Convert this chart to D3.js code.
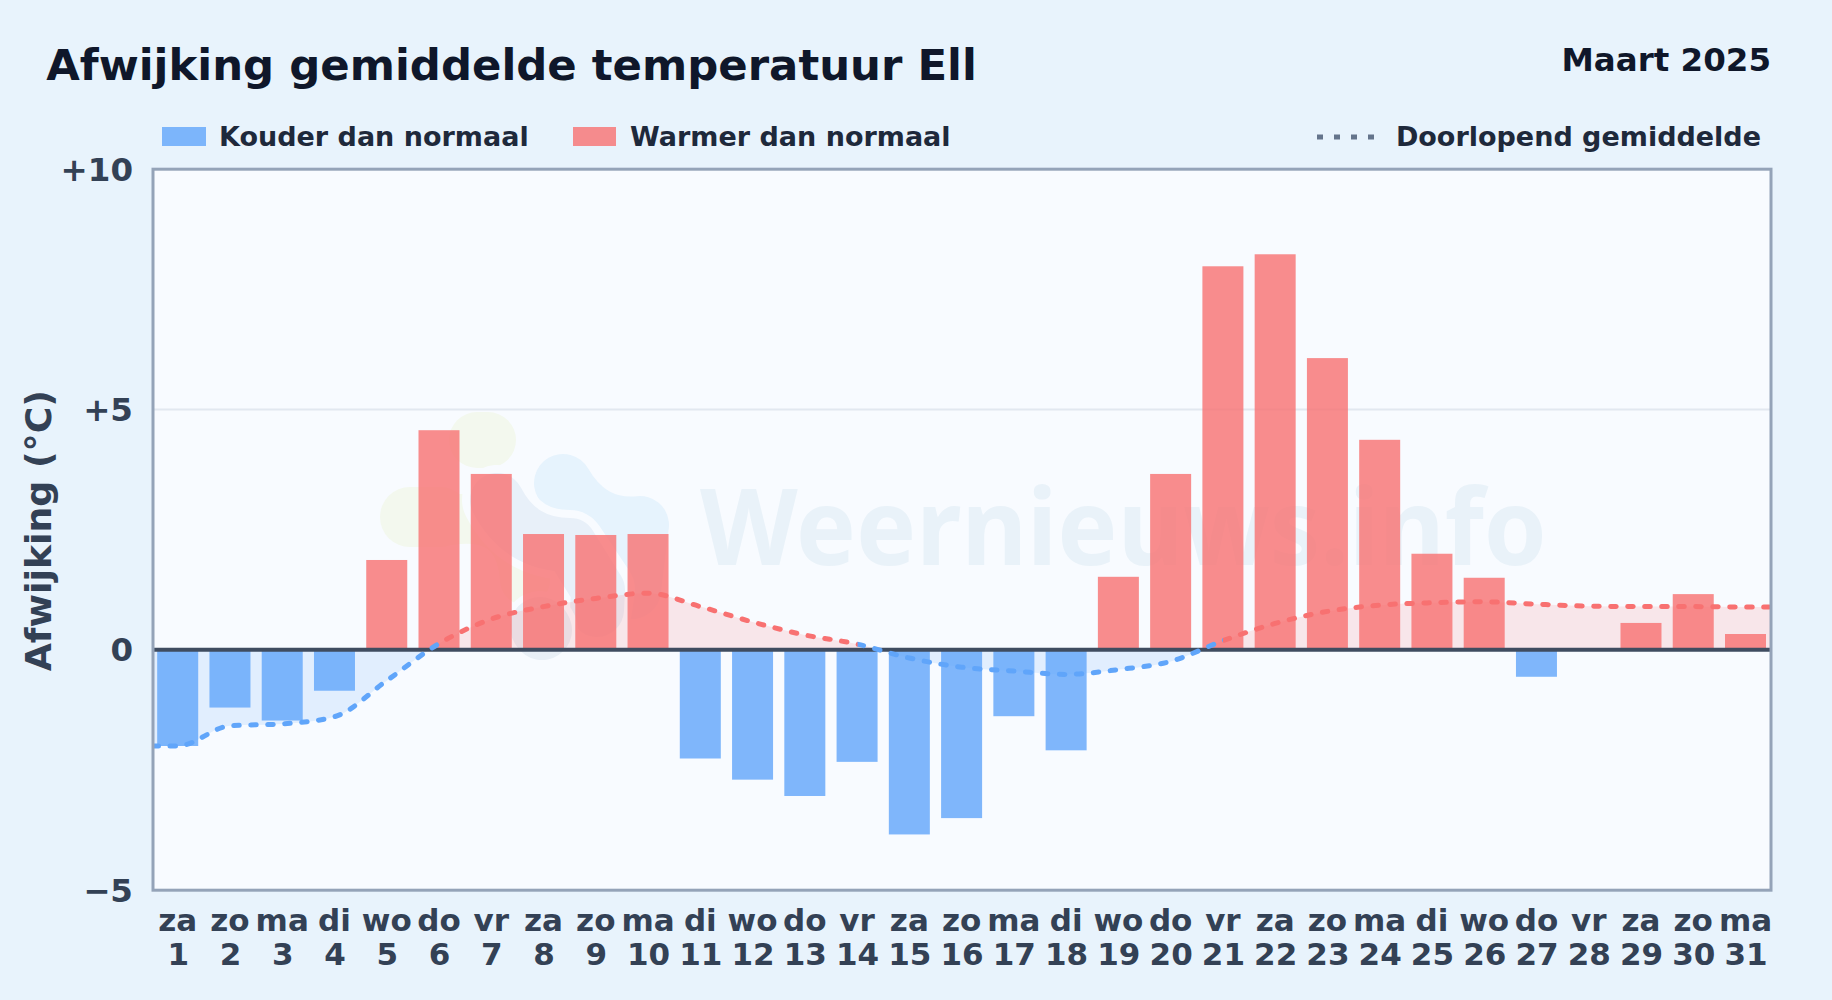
<!DOCTYPE html>
<html><head><meta charset="utf-8">
<script src="https://cdn.jsdelivr.net/npm/d3@7"></script>
<style>html,body{margin:0;padding:0;background:#e8f3fc}svg{display:block}
text{font-family:"DejaVu Sans",sans-serif;font-weight:700}</style></head>
<body><svg id="c" width="1832" height="1000"></svg>
<script>
const titleText="Afwijking gemiddelde temperatuur Ell";
const subtitleText="Maart 2025";
const yAxisTitle="Afwijking (°C)";
const legendCold="Kouder dan normaal", legendWarm="Warmer dan normaal", legendLine="Doorlopend gemiddelde";
const watermarkText="Weernieuws.info";
const days=d3.range(1,32);
const weekdays=["za","zo","ma","di","wo","do","vr","za","zo","ma","di","wo","do","vr","za","zo","ma","di","wo","do","vr","za","zo","ma","di","wo","do","vr","za","zo","ma"];
const deviations=[-2.0,-1.2,-1.47,-0.85,1.87,4.57,3.66,2.41,2.39,2.41,-2.26,-2.7,-3.04,-2.33,-3.84,-3.5,-1.38,-2.09,1.52,3.66,7.98,8.23,6.07,4.37,2.0,1.5,-0.56,0,0.56,1.16,0.33];
const running=[-2.0,-1.58,-1.54,-1.39,-0.64,0.13,0.64,0.9,1.07,1.18,0.9,0.58,0.31,0.12,-0.17,-0.36,-0.44,-0.51,-0.41,-0.24,0.19,0.55,0.8,0.93,0.98,1.0,0.95,0.91,0.9,0.9,0.89];
const yTicks=[10,5,0,-5];
const yTickLabels=["+10","+5","0","−5"];

const svg=d3.select("#c");
const L=153,R=1771,T=169.2,B=890.2;
const x=d3.scaleLinear().domain([1,31]).range([177.7,1745.5]);
const y=d3.scaleLinear().domain([-5,10]).range([B,T]);
const barW=41;

const defs=svg.append("defs");
svg.append("rect").attr("width",1832).attr("height",1000).attr("fill","#e8f3fc");
svg.append("rect").attr("x",L).attr("y",T).attr("width",R-L).attr("height",B-T).attr("fill","#f8fbff");

defs.append("clipPath").attr("id","plot").append("rect").attr("x",L).attr("y",T).attr("width",R-L).attr("height",B-T);
defs.append("clipPath").attr("id","above").append("rect").attr("x",L).attr("y",T).attr("width",R-L).attr("height",y(0)-T);
defs.append("clipPath").attr("id","below").append("rect").attr("x",L).attr("y",y(0)).attr("width",R-L).attr("height",B-y(0));

// watermark
const wm=svg.append("g").attr("clip-path","url(#plot)");
const blob=(d,w,c)=>wm.append("path").attr("d",d).attr("fill","none").attr("stroke",c).attr("stroke-width",w).attr("stroke-linecap","round").attr("stroke-linejoin","round");
blob("M477 440 L488 440",56,"#f3f8ee");
blob("M410 517 L440 517",60,"#f3f8ee");
blob("M450 520 Q520 510 525 580",50,"#f3f8ee");
blob("M563 483 Q590 530 640 525 L632 590",58,"#e6f3fd");
blob("M497 500 Q520 545 570 545 L600 590 L597 610",70,"#f8fbff");
blob("M497 500 Q520 545 570 545 L598 590 L597 610",54,"#e8f0f9");
blob("M540 627 L542 630",72,"#f8fbff");
blob("M540 627 L542 630",60,"#e8eff6");
wm.append("text").attr("x",700).attr("y",565).attr("font-size",106)
  .attr("textLength",847).attr("lengthAdjust","spacingAndGlyphs")
  .style("font-family","'Noto Sans'").style("font-weight",700).attr("fill","#e9f2f9").text(watermarkText);

// gridline
svg.append("line").attr("x1",L).attr("x2",R).attr("y1",y(5)).attr("y2",y(5)).attr("stroke","#e2e8f0").attr("stroke-width",2);

// area + line
const pts=[[x.invert(L),running[0]],...running.map((v,i)=>[days[i],v]),[x.invert(R),running[30]]];
const area=d3.area().x(d=>x(d[0])).y0(y(0)).y1(d=>y(d[1])).curve(d3.curveMonotoneX);
svg.append("path").attr("d",area(pts)).attr("fill","#60a5fa").attr("fill-opacity",.15).attr("clip-path","url(#below)");
svg.append("path").attr("d",area(pts)).attr("fill","#f87171").attr("fill-opacity",.15).attr("clip-path","url(#above)");

// bars
svg.append("g").selectAll("rect").data(deviations.map((v,i)=>({v,d:days[i]})).filter(d=>d.v!==0)).join("rect")
  .attr("x",d=>x(d.d)-barW/2).attr("width",barW)
  .attr("y",d=>Math.min(y(0),y(d.v))).attr("height",d=>Math.abs(y(d.v)-y(0)))
  .attr("fill",d=>d.v<0?"#60a5fa":"#f87171").attr("fill-opacity",.8);

// zero line
svg.append("line").attr("x1",L).attr("x2",R).attr("y1",y(0)).attr("y2",y(0)).attr("stroke","#3f4c60").attr("stroke-width",4);

// running line split by segment colour
const line=d3.line().x(d=>x(d[0])).y(d=>y(d[1])).curve(d3.curveMonotoneX);
const isBlue=pts.slice(1).map((p,i)=>pts[i][1]<0||p[1]<0);
["blue","red"].forEach(c=>{
  const cp=defs.append("clipPath").attr("id","seg-"+c);
  pts.slice(1).forEach((p,i)=>{ if(isBlue[i]===(c==="blue")){
    cp.append("rect").attr("x",x(pts[i][0])).attr("width",x(p[0])-x(pts[i][0])+.5).attr("y",0).attr("height",1000);
  }});
  svg.append("path").attr("d",line(pts)).attr("fill","none")
    .attr("stroke",c==="blue"?"#60a5fa":"#f87171").attr("stroke-width",5)
    .attr("stroke-dasharray","5.5 11.5").attr("stroke-linecap","round")
    .attr("clip-path","url(#seg-"+c+")");
});

// frame
svg.append("rect").attr("x",L).attr("y",T).attr("width",R-L).attr("height",B-T).attr("fill","none").attr("stroke","#94a3b8").attr("stroke-width",3);

// y axis
svg.append("g").selectAll("text").data(yTicks).join("text")
  .attr("x",133).attr("y",d=>y(d)+11.5).attr("text-anchor","end").attr("font-size",32.5).attr("fill","#334155")
  .text((d,i)=>yTickLabels[i]);
svg.append("text").attr("transform",`translate(51,${(T+B)/2+1}) rotate(-90)`).attr("text-anchor","middle")
  .attr("font-size",36.3).attr("fill","#334155").text(yAxisTitle);

// x axis
const xg=svg.append("g").selectAll("g").data(days).join("g");
xg.append("text").attr("x",d=>x(d)).attr("y",931).attr("text-anchor","middle").attr("font-size",31).attr("fill","#334155").text((d,i)=>weekdays[i]);
xg.append("text").attr("x",d=>x(d)+0.5).attr("y",965).attr("text-anchor","middle").attr("font-size",31).attr("fill","#334155").text(d=>d);

// title
svg.append("text").attr("x",46.2).attr("y",79.5).attr("font-size",43.4).attr("fill","#0f172a").text(titleText);
svg.append("text").attr("x",1771).attr("y",71).attr("text-anchor","end").attr("font-size",32.5).attr("fill","#0f172a").text(subtitleText);

// legend
const lg=svg.append("g");
lg.append("rect").attr("x",162).attr("y",127).attr("width",44).attr("height",19).attr("fill","#60a5fa").attr("fill-opacity",.8);
lg.append("text").attr("x",219).attr("y",146).attr("font-size",27).attr("fill","#1e293b").text(legendCold);
lg.append("rect").attr("x",573).attr("y",127).attr("width",43).attr("height",19).attr("fill","#f87171").attr("fill-opacity",.8);
lg.append("text").attr("x",630).attr("y",146).attr("font-size",27).attr("fill","#1e293b").text(legendWarm);
lg.append("line").attr("x1",1317).attr("x2",1375).attr("y1",137).attr("y2",137).attr("stroke","#64748b").attr("stroke-width",5).attr("stroke-dasharray","6 11");
lg.append("text").attr("x",1761).attr("y",146).attr("text-anchor","end").attr("font-size",27).attr("fill","#1e293b").text(legendLine);
</script></body></html>
